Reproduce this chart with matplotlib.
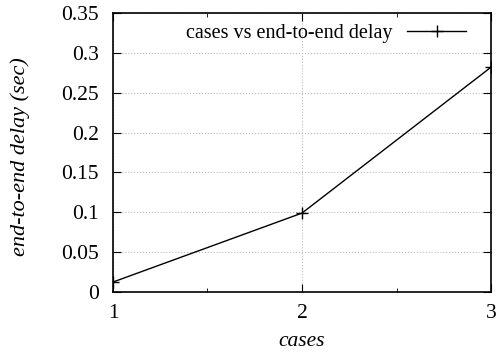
import matplotlib.pyplot as plt
from matplotlib.ticker import MultipleLocator

plt.rcParams['font.family'] = ['Liberation Serif', 'DejaVu Serif']

cases = [1, 2, 3]
delay = [0.0125, 0.099, 0.282]
yticks = [0, 0.05, 0.1, 0.15, 0.2, 0.25, 0.3, 0.35]
ytick_labels = ['0', '0.05', '0.1', '0.15', '0.2', '0.25', '0.3', '0.35']

fig = plt.figure(figsize=(4.97, 3.56), dpi=100)
ax = fig.add_axes([113 / 497, 1 - 292 / 356, (491 - 113) / 497, (292 - 13) / 356])

ax.plot(cases, delay, color='black', lw=1, marker='+', ms=9, mew=1,
        label='cases vs end-to-end delay')

ax.set_xlim(1, 3)
ax.set_ylim(0, 0.35)
ax.set_xticks(cases)
ax.set_xticklabels(['1', '2', '3'])
ax.xaxis.set_minor_locator(MultipleLocator(0.5))
ax.set_yticks(yticks)
ax.set_yticklabels(ytick_labels)

ax.grid(True, which='major', color='#bbbbbb', linestyle=':', lw=0.8)
ax.tick_params(which='both', direction='in', top=True, right=True, labelsize=15.5)
ax.tick_params(axis='x', pad=9)
ax.tick_params(axis='y', pad=10)
ax.tick_params(which='major', length=6)
ax.tick_params(which='minor', length=3)
for s in ax.spines.values():
    s.set_linewidth(1.2)

ax.set_xlabel('cases', fontsize=15.5, style='italic', va='baseline')
ax.set_ylabel('end-to-end delay (sec)', fontsize=16, style='italic', va='baseline')
ax.xaxis.set_label_coords(0.5, -0.194)
ax.yaxis.set_label_coords(-0.233, 0.486)

ax.legend(loc='center right', bbox_to_anchor=(0.934, 0.925), frameon=False,
          fontsize=14.5, markerfirst=False, handlelength=2.93,
          handletextpad=0.7, borderaxespad=0, borderpad=0)

fig.savefig('out.png', dpi=100)
